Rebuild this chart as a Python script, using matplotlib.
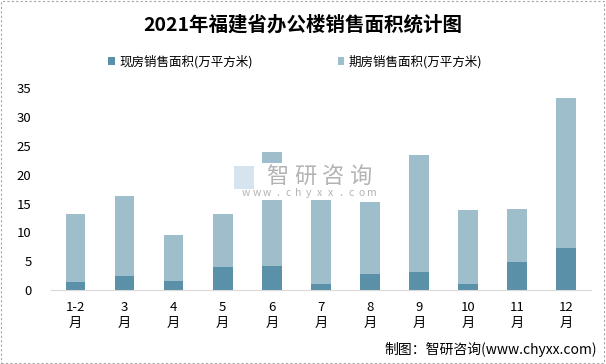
import matplotlib
matplotlib.use("Agg")
import matplotlib.pyplot as plt
import numpy as np
from matplotlib.patches import Rectangle

plt.rcParams['font.family'] = ['Noto Sans CJK SC', 'DejaVu Sans']

months = ["1-2\n月", "3\n月", "4\n月", "5\n月", "6\n月", "7\n月",
          "8\n月", "9\n月", "10\n月", "11\n月", "12\n月"]
# 现房销售面积 (万平方米)
spot = [1.4, 2.4, 1.6, 4.0, 4.2, 1.0, 2.8, 3.1, 1.0, 4.9, 7.3]
# 期房 = total - spot
total = [13.2, 16.3, 9.5, 13.2, 24.0, 15.6, 15.3, 23.4, 13.9, 14.1, 33.2]
forward = [round(t - s, 1) for t, s in zip(total, spot)]

DARK = "#5b91a8"
LIGHT = "#9fbecb"

fig = plt.figure(figsize=(6.06, 3.64), dpi=100)
ax = fig.add_axes([0.084, 0.203, 0.891, 0.555])

x = np.arange(len(months))
ax.bar(x, spot, width=0.4, color=DARK, label="现房销售面积(万平方米)")
ax.bar(x, forward, width=0.4, bottom=spot, color=LIGHT, label="期房销售面积(万平方米)")

ax.set_xlim(-0.5, len(months) - 0.5)
ax.set_ylim(0, 35)
ax.set_yticks(range(0, 36, 5))
ax.set_xticks(x)
ax.set_xticklabels(months, fontsize=9.5, linespacing=1.3)
ax.tick_params(axis="both", length=0, labelsize=9.5)
ax.tick_params(axis="y", pad=14)
ax.tick_params(axis="x", pad=8)
for s in ["top", "right", "left"]:
    ax.spines[s].set_visible(False)
ax.spines["bottom"].set_color("#d9d9d9")

# title, legend, source
fig.text(0.5, 0.931, "2021年福建省办公楼销售面积统计图", ha="center", va="center",
         fontsize=14, fontweight="bold")
fig.legend(loc="center left", bbox_to_anchor=(0.178, 0.83), ncol=2, frameon=False,
           fontsize=9, handlelength=0.55, handleheight=0.55, columnspacing=6.8,
           handletextpad=0.35, borderpad=0, borderaxespad=0)
fig.text(0.985, 0.04, "制图：智研咨询(www.chyxx.com)", ha="right", va="center", fontsize=10)

# watermark with white backing box
fig.patches.append(Rectangle((230 / 606, 1 - 200 / 364), 150 / 606, 37 / 364,
                             transform=fig.transFigure, facecolor="white",
                             edgecolor="none", zorder=2))
fig.patches.append(Rectangle((234 / 606, 1 - 189 / 364), 20 / 606, 23 / 364,
                             transform=fig.transFigure, facecolor="#d6e4ef",
                             edgecolor="none", zorder=3))
for i, ch in enumerate("智研咨询"):
    fig.text((277 + i * 28) / 606, 1 - 176 / 364, ch, ha="center", va="center",
             fontsize=16, color="#b3b3b3", zorder=4)
for i, ch in enumerate("www.chyxx.com"):
    fig.text((246 + i * 10.5) / 606, 1 - 193 / 364, ch, ha="center", va="center",
             fontsize=7.5, color="#b3b3b3", zorder=4)

# dashed figure border
fig.patches.append(Rectangle((0.002, 0.003), 0.995, 0.994, transform=fig.transFigure,
                             fill=False, edgecolor="#a6a6a6", linestyle=(0, (2, 2)),
                             linewidth=0.8))

fig.savefig("out.png", dpi=100)
